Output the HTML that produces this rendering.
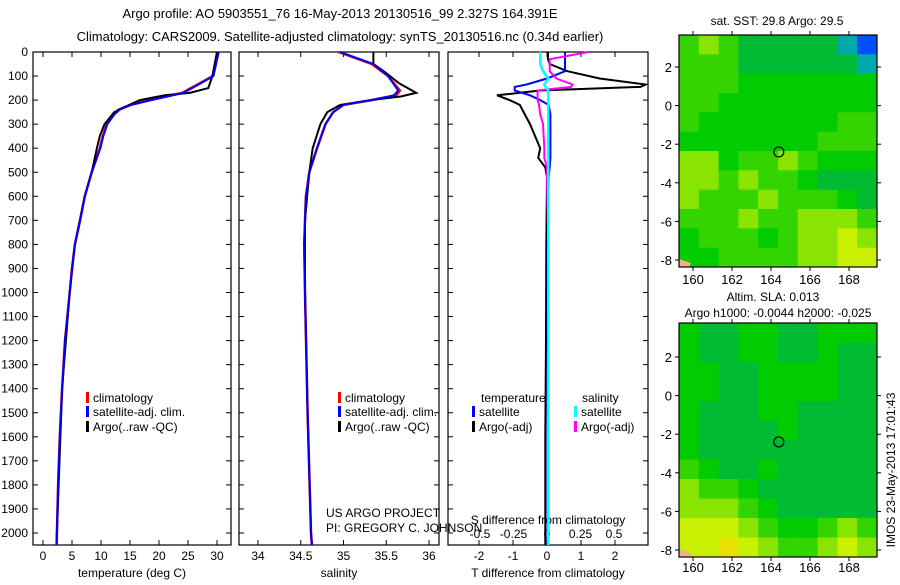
<!DOCTYPE html>
<html><head><meta charset="utf-8"><style>
body{margin:0;background:#fff;}
svg{font-family:"Liberation Sans",sans-serif;}
</style></head><body>
<svg id="fig" width="900" height="580" xmlns="http://www.w3.org/2000/svg">
<rect width="900" height="580" fill="#fff"/>
<text x="340" y="18" font-size="13" text-anchor="middle">Argo profile: AO 5903551_76 16-May-2013 20130516_99 2.327S 164.391E</text>
<text x="340" y="41" font-size="13" text-anchor="middle">Climatology: CARS2009. Satellite-adjusted climatology: synTS_20130516.nc (0.34d earlier)</text>
<g id="g"></g>
</svg>
<script>
// depth-profile data
const tDepth=[0,100,130,170,200,220,240,260,300,350,400,500,600,700,800,900,1000,1200,1400,1600,1800,2000,2050];
const tClim=[30.2,29.3,27,24,18.4,15,13,12.2,11,10.3,9.8,8.4,7.2,6.4,5.5,5,4.6,3.8,3.3,2.9,2.6,2.4,2.35];
const tSat=[30.3,29.4,27.2,24.2,18.6,15.2,13.2,12.3,11.1,10.4,9.9,8.4,7.2,6.4,5.5,5,4.6,3.8,3.3,2.9,2.6,2.4,2.35];
const aDepth=[0,100,150,170,180,200,230,250,300,350,400,500,600,800,1000,1400,2000,2050];
const tArgo=[30.0,29.2,28.5,25.3,21,16.7,14,12.3,10.6,9.8,9.3,8.4,7.2,5.5,4.6,3.3,2.4,2.35];
const sDepth=[0,50,100,160,180,200,220,250,300,400,500,600,700,800,1000,1500,2000,2050];
const sClim=[34.94,35.33,35.52,35.66,35.62,35.33,35.0,34.88,34.79,34.69,34.6,34.56,34.55,34.54,34.55,34.58,34.62,34.63];
const sSat=[34.96,35.35,35.52,35.64,35.59,35.32,35.0,34.88,34.79,34.69,34.6,34.56,34.55,34.54,34.55,34.58,34.62,34.63];
const saDepth=[0,50,80,130,170,185,200,220,250,300,400,500,700,1000,1500,2000,2050];
const sArgo=[35.35,35.35,35.47,35.65,35.85,35.67,35.32,34.96,34.81,34.73,34.64,34.6,34.55,34.55,34.58,34.62,34.63];
const dDepth=[0,30,50,80,110,135,145,160,180,200,220,260,300,400,440,480,520,800,1200,1600,2050];
const dTArgo=[0.03,0.03,0.08,0.6,1.55,2.9,2.75,-0.2,-1.47,-1.1,-0.8,-0.65,-0.5,-0.2,-0.26,-0.05,0,-0.02,-0.03,-0.05,-0.05];
const dTSat=[0.53,0.53,0.53,0.53,0,-0.6,-0.95,-0.95,-0.5,-0.2,0.05,0.1,0.1,0.1,0.1,0.08,0.05,0.02,0.02,0.02,0.02];
const dSArgo=[0.31,0.02,0.02,0.02,0.07,0.19,0.18,-0.07,-0.07,-0.07,-0.06,-0.05,-0.03,-0.02,-0.02,0,0,0.01,0.01,0.01,0.01];
const dSSat=[-0.05,-0.05,-0.05,-0.03,0.01,-0.02,-0.01,0.01,0.01,0.01,0.01,0.01,0.01,0.01,0.01,0.01,0.01,0.01,0.01,0.01,0.01];
const depthTicks=[0,100,200,300,400,500,600,700,800,900,1000,1100,1200,1300,1400,1500,1600,1700,1800,1900,2000];
const tTicks=[0,5,10,15,20,25,30];
const sTicks=[34,34.5,35,35.5,36];
const sTickLabels=["34","34.5","35","35.5","36"];
const dtTicks=[-2,-1,0,1,2];
const dsTicks=[-0.5,-0.25,0,0.25,0.5];
const dsTickLabels=["-0.5","-0.25","0","0.25","0.5"];
const lonTicks=[160,162,164,166,168];
const latTicks=[2,0,-2,-4,-6,-8];
// map grids (coarse, 10 lon x 12 lat); codes index into palette
const sstGrid=[
[1,2,1,4,4,4,4,4,5,6],[1,1,1,4,4,4,4,4,4,5],[1,1,1,0,0,0,0,0,0,0],[1,1,0,0,0,0,0,0,0,0],
[1,0,0,0,0,0,0,0,1,1],[0,0,0,0,0,0,0,1,1,1],[2,2,0,1,1,2,1,0,0,0],[2,2,1,2,1,1,0,4,4,4],
[2,1,1,1,2,1,1,1,0,4],[1,1,1,2,1,1,2,2,2,1],[0,1,1,1,0,1,2,2,3,2],[0,0,1,1,1,1,2,2,3,3]];
const slaGrid=[
[0,4,4,0,0,4,4,0,0,0],[0,4,4,0,0,4,4,0,4,4],[0,0,4,4,0,0,0,0,4,4],[0,0,4,4,0,0,0,0,4,4],
[0,4,4,4,0,0,4,4,4,4],[0,4,4,4,4,0,4,4,4,4],[0,4,4,4,4,4,4,4,4,4],[1,0,4,4,0,4,4,4,4,4],
[2,1,1,0,4,4,4,4,4,4],[2,2,2,1,0,4,4,4,4,4],[3,3,3,2,1,0,0,1,2,1],[3,3,7,3,2,1,1,2,3,2]];
const palette=["#00cc00","#33d400","#88e400","#c8f000","#00bb33","#00aaaa","#0050ff","#e8e000"];

const NS="http://www.w3.org/2000/svg";
const G=document.getElementById('g');
function mk(t,a,p){const e=document.createElementNS(NS,t);for(const k in a)e.setAttribute(k,a[k]);(p||G).appendChild(e);return e;}
const Y0=52,Y1=545,dy=d=>Y0+d*0.2405;
function line(xs,ds,fx,col,w,name){
  const p=mk('polyline',{points:xs.map((v,i)=>fx(v).toFixed(1)+','+dy(ds[i]).toFixed(1)).join(' '),fill:'none',stroke:col,'stroke-width':w});
  
  
}
function frame(x0,x1,name){
  const r=mk('rect',{x:x0,y:Y0,width:x1-x0,height:Y1-Y0,fill:'none',stroke:'#000','stroke-width':1.2});
  
  
}
function txt(x,y,s,opt){const t=mk('text',Object.assign({x:x,y:y,'font-size':12},opt||{}));t.textContent=s;return t;}
function xticks(x0,x1,vals,labels,fx,ly){
  vals.forEach((v,i)=>{const x=fx(v);mk('line',{x1:x,x2:x,y1:Y1,y2:Y1-5,stroke:'#000'});mk('line',{x1:x,x2:x,y1:Y0,y2:Y0+5,stroke:'#000'});
   const t=txt(x,ly,labels[i],{'text-anchor':'middle'});});
}
function legendItem(x,y,col,s){mk('rect',{x:x,y:y-10,width:3,height:11,fill:col});const t=txt(x+7,y,s);}

// Panel 1 temperature
const fT=v=>43+v*5.8;
frame(33,231,'temperature-plot-frame');
depthTicks.forEach(d=>{const y=dy(d);mk('line',{x1:33,x2:38,y1:y,y2:y,stroke:'#000'});mk('line',{x1:226,x2:231,y1:y,y2:y,stroke:'#000'});
 const t=txt(28,y+4,String(d),{'text-anchor':'end'});});
xticks(33,231,tTicks,tTicks.map(String),fT,560);
line(tClim,tDepth,fT,'#ff0000',2.5,'temperature-climatology-line');
line(tArgo,aDepth,fT,'#000',2,'temperature-argo-line');
line(tSat,tDepth,fT,'#0000ff',2,'temperature-satellite-line');
txt(132,577,'temperature (deg C)',{'text-anchor':'middle'});
legendItem(86,402,'#f00','climatology');legendItem(86,416,'#00f','satellite-adj. clim.');legendItem(86,431,'#000','Argo(..raw -QC)');

// Panel 2 salinity
const fS=v=>258+(v-34)*85.5;
frame(239,439,'salinity-plot-frame');
depthTicks.forEach(d=>{const y=dy(d);mk('line',{x1:239,x2:244,y1:y,y2:y,stroke:'#000'});mk('line',{x1:434,x2:439,y1:y,y2:y,stroke:'#000'});});
xticks(239,439,sTicks,sTickLabels,fS,560);
line(sClim,sDepth,fS,'#ff0000',2.5,'salinity-climatology-line');
line(sArgo,saDepth,fS,'#000',2,'salinity-argo-line');
line(sSat,sDepth,fS,'#0000ff',2,'salinity-satellite-line');
txt(339,577,'salinity',{'text-anchor':'middle'});
legendItem(338,402,'#f00','climatology');legendItem(338,416,'#00f','satellite-adj. clim.');legendItem(338,431,'#000','Argo(..raw -QC)');
txt(326,517,'US ARGO PROJECT');
txt(326,532,'PI: GREGORY C. JOHNSON');

// Panel 3 differences
const fdT=v=>547+v*34, fdS=v=>547+v*134;
frame(448,648,'difference-plot-frame');
depthTicks.forEach(d=>{const y=dy(d);mk('line',{x1:448,x2:453,y1:y,y2:y,stroke:'#000'});mk('line',{x1:643,x2:648,y1:y,y2:y,stroke:'#000'});});
xticks(448,648,dtTicks,dtTicks.map(String),fdT,560);
dsTicks.forEach((v,i)=>{const t=txt(fdS(v),538,dsTickLabels[i],{'text-anchor':'middle'});});
txt(548,524,'S difference from climatology',{'text-anchor':'middle'});
line(dTArgo,dDepth,fdT,'#000',2,'t-diff-argo-line');
line(dTSat,dDepth,fdT,'#0000ff',2,'t-diff-satellite-line');
line(dSArgo,dDepth,fdS,'#ff00ff',2,'s-diff-argo-line');
line(dSSat,dDepth,fdS,'#00ffff',2.5,'s-diff-satellite-line');
txt(548,577,'T difference from climatology',{'text-anchor':'middle'});
txt(481,402,'temperature');
txt(582,402,'salinity');
legendItem(472,416,'#00f','satellite');legendItem(472,431,'#000','Argo(-adj)');
legendItem(574,416,'#0ff','satellite');legendItem(574,431,'#f0f','Argo(-adj)');

// Maps
const MX0=679,MX1=877,fLon=v=>693+(v-160)*19.5;
function drawMap(grid,top,bot,lat2y,name,lblY){
  const fLat=v=>lat2y+(2-v)*19.3;
  const rows=grid.length,cols=grid[0].length,cw=(MX1-MX0)/cols,ch=(bot-top)/rows;
  grid.forEach((row,r)=>row.forEach((c,k)=>{const e=mk('rect',{x:MX0+k*cw,y:top+r*ch,width:cw+0.5,height:ch+0.5,fill:palette[c]});
    
    }));
  mk('polygon',{points:`${MX0},${bot-8} ${MX0+12},${bot-4} ${MX0+10},${bot} ${MX0},${bot}`,fill:'#f0b090'});
  const f=mk('rect',{x:MX0,y:top,width:MX1-MX0,height:bot-top,fill:'none',stroke:'#000','stroke-width':1.2});
  
  
  latTicks.forEach(v=>{const y=fLat(v);mk('line',{x1:MX0,x2:MX0-4,y1:y,y2:y,stroke:'#000'});mk('line',{x1:MX1,x2:MX1+4,y1:y,y2:y,stroke:'#000'});
    const t=txt(672,y+5,String(v),{'text-anchor':'end','font-size':13});});
  lonTicks.forEach(v=>{const x=fLon(v);mk('line',{x1:x,x2:x,y1:top,y2:top-4,stroke:'#000'});mk('line',{x1:x,x2:x,y1:bot,y2:bot+4,stroke:'#000'});
    const t=txt(x,lblY,String(v),{'text-anchor':'middle','font-size':13});});
  const c=mk('circle',{cx:fLon(164.4),cy:fLat(-2.4),r:5,fill:'none',stroke:'#000','stroke-width':1.2});
  
  
}
drawMap(sstGrid,35,267,67,'sst-map',284);
drawMap(slaGrid,323,557,357,'sla-map',572);
txt(777,25,'sat. SST: 29.8 Argo: 29.5',{'text-anchor':'middle'});
txt(773,301,'Altim. SLA: 0.013',{'text-anchor':'middle'});
txt(778,317,'Argo h1000: -0.0044 h2000: -0.025',{'text-anchor':'middle'});
txt(0,0,'IMOS 23-May-2013 17:01:43',{'text-anchor':'middle',transform:'translate(895,470) rotate(-90)'});
</script>
</body></html>
